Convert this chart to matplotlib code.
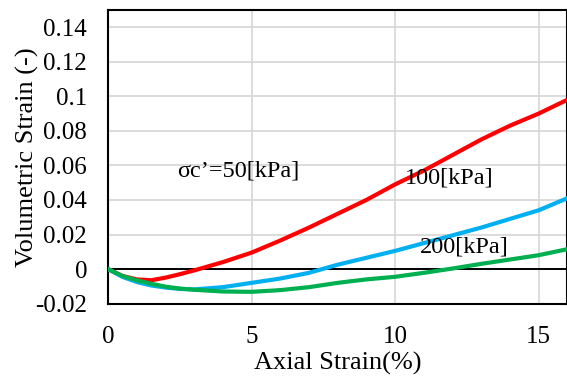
import matplotlib
matplotlib.use("Agg")
import matplotlib.pyplot as plt

plt.rcParams['font.family'] = ['Liberation Serif', 'DejaVu Serif']

# axial strain (%) sample positions
strain = [0, 0.5, 1, 1.5, 2, 2.5, 3, 4, 5, 6, 7, 8, 9, 10, 11, 12, 13, 14, 15, 16]

# volumetric strain (-) for each confining pressure
vol_50 = [0, -0.004, -0.006, -0.0065, -0.005, -0.003, -0.0008, 0.004, 0.0095, 0.0165,
          0.024, 0.032, 0.040, 0.049, 0.057, 0.066, 0.075, 0.083, 0.090, 0.098]
vol_100 = [0, -0.0045, -0.0075, -0.0095, -0.0107, -0.0115, -0.0118, -0.0105, -0.008, -0.0055,
           -0.0022, 0.0025, 0.0065, 0.0105, 0.015, 0.0195, 0.024, 0.029, 0.034, 0.041]
vol_200 = [0, -0.004, -0.0065, -0.0085, -0.0102, -0.0113, -0.012, -0.013, -0.0132, -0.0122,
           -0.0105, -0.008, -0.006, -0.0045, -0.0022, 0.0003, 0.003, 0.0055, 0.008, 0.0115]

x_ticks = [0, 5, 10, 15]
y_ticks = [-0.02, 0, 0.02, 0.04, 0.06, 0.08, 0.1, 0.12, 0.14]
y_tick_labels = ['-0.02', '0', '0.02', '0.04', '0.06', '0.08', '0.1', '0.12', '0.14']

fig = plt.figure(figsize=(5.67, 3.79), dpi=100)
ax = fig.add_axes([0.1905, 0.199, 0.81, 0.7746])

ax.grid(True, color='#D9D9D9', linewidth=1.3)
ax.set_axisbelow(True)
ax.axhline(0, color='black', linewidth=1.4, zorder=2)

ax.plot(strain, vol_50, color='#FF0000', linewidth=3, zorder=3)
ax.plot(strain, vol_100, color='#00B0F0', linewidth=3, zorder=3)
ax.plot(strain, vol_200, color='#00B050', linewidth=3, zorder=4)

ax.text(2.4, 0.057, 'σc’=50[kPa]', fontsize=17.5, va='center', zorder=5)
ax.text(10.35, 0.053, '100[kPa]', fontsize=17.5, va='center', zorder=5)
ax.text(10.87, 0.0128, '200[kPa]', fontsize=17.5, va='center', zorder=5)

ax.set_xlim(0, 16)
ax.set_ylim(-0.02, 0.15)
ax.set_xticks(x_ticks)
ax.set_yticks(y_ticks)
ax.set_yticklabels(y_tick_labels)
ax.tick_params(axis='both', length=0, labelsize=18)
ax.tick_params(axis='y', pad=15)
ax.tick_params(axis='x', pad=16)

for side in ax.spines.values():
    side.set_linewidth(1.5)
    side.set_color('black')

ax.set_xlabel('Axial Strain(%)', fontsize=19, labelpad=3)
ax.set_ylabel('Volumetric Strain (-)', fontsize=19, labelpad=-3)

fig.savefig('out.png', dpi=100)
